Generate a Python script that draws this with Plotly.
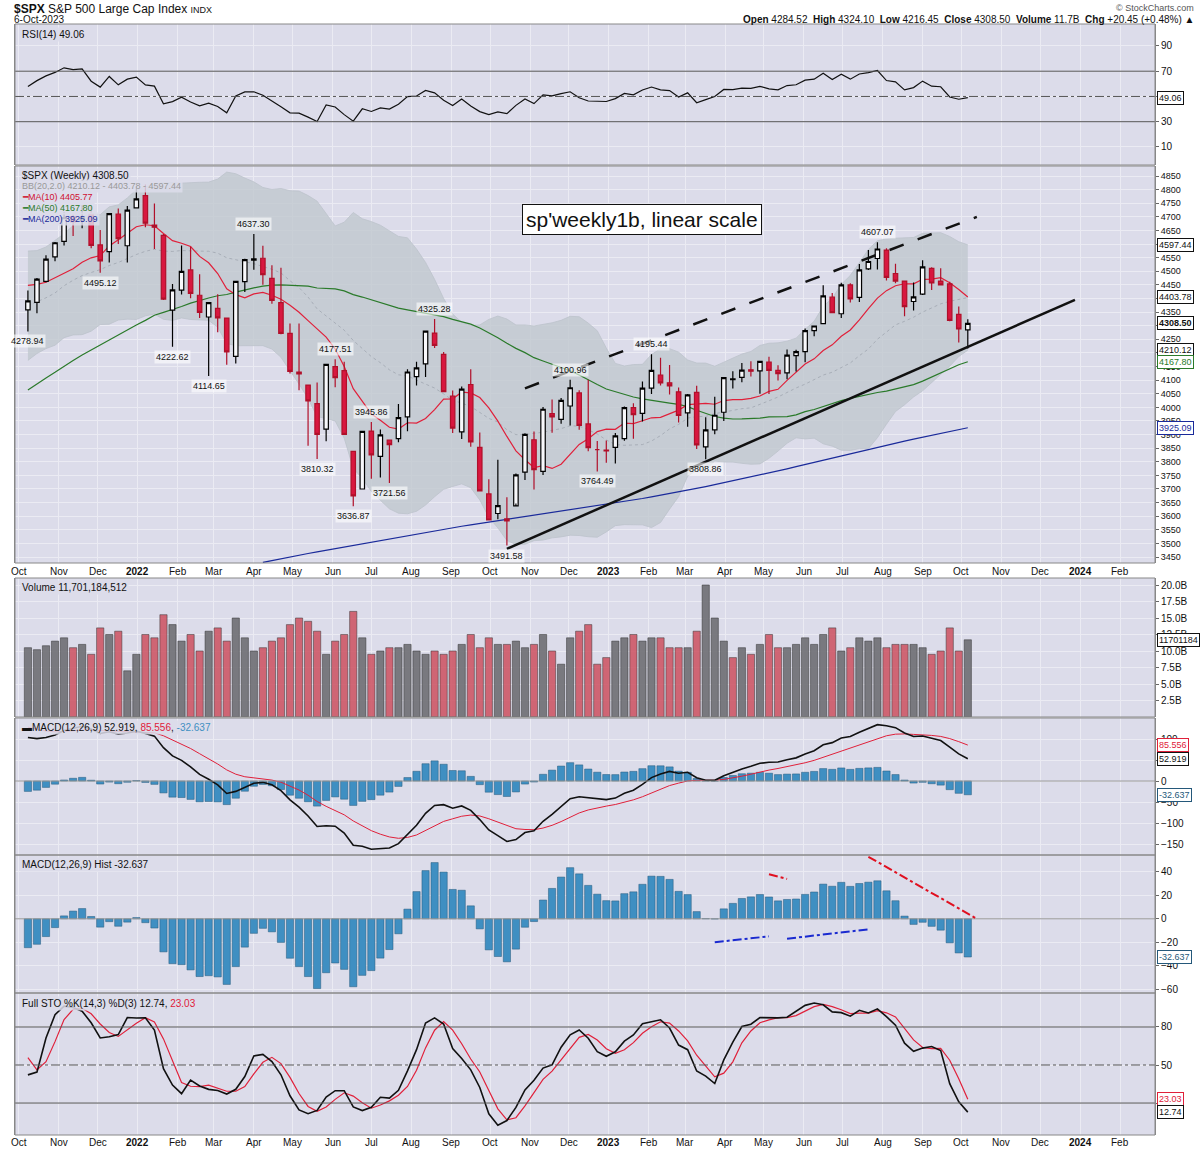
import numpy as np
import pandas as pd
import plotly.graph_objects as go

# ---------------- data ----------------
# warm-up weekly closes (Oct 2020 - Oct 1 2021) used only for indicators
hist_close = [3477,3484,3465,3270,3510,3585,3558,3638,3699,3663,3709,3703,3756,3825,3768,3841,3714,3886,3934,3907,
              3811,3841,3943,3913,3974,4020,4129,4185,4180,4181,4233,4174,4156,4204,4230,4247,4166,4281,4352,4370,
              4327,4412,4395,4437,4468,4442,4509,4535,4459,4433,4455,4357]

ohlc = [
(4358,4429,4279,4391),(4386,4475,4346,4471),(4463,4559,4460,4545),(4553,4608,4537,4605),(4610,4718,4595,4697),
(4701,4708,4630,4682),(4689,4743,4658,4698),(4712,4744,4585,4595),(4597,4652,4495,4538),(4572,4713,4532,4712),
(4710,4731,4600,4620),(4594,4740,4532,4725),(4733,4808,4733,4766),
(4778,4819,4662,4677),(4670,4749,4582,4662),(4632,4637,4395,4398),(4357,4453,4223,4432),(4431,4595,4415,4500),
(4505,4590,4401,4419),(4412,4489,4328,4349),(4332,4385,4115,4385),(4364,4416,4276,4329),(4328,4328,4157,4204),
(4187,4465,4161,4463),(4462,4546,4424,4543),(4541,4637,4506,4546),(4548,4594,4451,4488),(4474,4522,4381,4393),
(4385,4513,4269,4272),(4272,4308,4124,4132),(4130,4308,4063,4123),(4082,4082,3859,4024),(4014,4091,3810,3901),
(3920,4159,3875,4158),(4150,4177,4074,4109),(4135,4168,3900,3901),(3838,3838,3637,3675),(3700,3914,3700,3912),
(3913,3946,3738,3825),(3820,3919,3742,3899),(3880,3880,3722,3863),(3885,4012,3872,3962),(3965,4140,3912,4130),
(4113,4168,4080,4145),(4160,4280,4112,4280),(4273,4325,4218,4228),(4195,4203,4058,4058),(4041,4062,3906,3924),
(3910,4077,3884,4067),(4084,4140,3855,3873),(3853,3908,3693,3693),(3682,3736,3584,3586),(3610,3807,3589,3639),
(3590,3670,3492,3583),(3638,3757,3647,3752),(3762,3905,3733,3901),(3881,3911,3698,3771),(3765,4001,3751,3993),
(3977,4029,3907,3965),(3956,4034,3940,4026),(4005,4101,3933,4072),(4053,4063,3918,3934),(3939,4101,3839,3852),
(3845,3876,3764,3845),(3843,3878,3796,3840),
(3853,3906,3794,3895),(3885,4003,3877,3999),(3999,4015,3885,3973),(3978,4095,3948,4071),(4071,4195,4049,4136),
(4119,4182,4080,4090),(4090,4156,4047,4079),(4057,4073,3944,3970),(3980,4049,3929,4046),(4055,4079,3847,3862),
(3855,3964,3809,3917),(3917,4039,3901,3971),(3982,4110,3950,4109),(4102,4133,4069,4105),(4110,4163,4092,4137),
(4138,4169,4113,4133),(4134,4170,4050,4169),(4166,4186,4049,4136),(4136,4155,4099,4124),(4127,4213,4103,4192),
(4190,4212,4132,4205),(4205,4290,4166,4282),(4282,4298,4261,4299),(4308,4449,4305,4410),(4405,4420,4347,4348),
(4344,4458,4328,4450),(4450,4456,4385,4399),(4404,4527,4387,4505),(4509,4578,4505,4536),(4547,4607,4507,4582),
(4578,4585,4466,4478),(4492,4528,4456,4464),(4464,4464,4335,4370),(4389,4459,4356,4406),(4416,4541,4413,4516),
(4511,4515,4431,4457),(4464,4511,4449,4450),(4454,4462,4316,4320),(4342,4371,4238,4288),(4284.52,4324.10,4216.45,4308.50),
]
opens = [r[0] for r in ohlc]; highs = [r[1] for r in ohlc]; lows = [r[2] for r in ohlc]; closes = [r[3] for r in ohlc]

volume_b = [10.5,10.2,10.8,11.5,12.0,10.5,11.0,9.5,13.5,12.5,13.0,7.0,9.5,
            12.5,12.0,15.5,14.0,11.5,12.5,10.0,13.0,13.5,11.5,15.0,12.0,10.0,10.5,11.5,12.0,14.0,15.0,
            14.5,13.0,9.5,11.5,12.5,16.0,12.0,9.5,10.0,10.5,10.5,11.0,10.0,9.5,10.0,9.5,10.0,11.0,
            12.5,10.5,12.0,11.0,11.0,11.5,10.5,11.0,12.5,10.0,8.0,12.0,13.0,14.0,8.0,9.0,
            11.5,12.0,12.5,11.5,12.0,12.0,10.5,10.5,10.5,13.0,20.0,15.0,11.5,9.0,10.5,9.5,11.0,12.5,
            10.5,10.5,11.0,12.0,11.0,12.5,13.5,10.0,10.5,12.0,11.5,12.0,10.5,11.0,11.0,11.0,10.5,9.5,
            10.0,13.5,10.0,11.7]

ma200_vals = [3430,3437,3444,3451,3457,3463,3469,3475,3481,3487,3493,3499,3505,3511,3517,3523,3529,3535,3541,3547,
              3553,3558,3563,3568,3573,3578,3583,3588,3593,3598,3603,3608,3613,3618,3623,3628,3633,3638,3643,3648,
              3653,3659,3665,3671,3677,3683,3689,3695,3702,3709,3716,3723,3730,3737,3744,3751,3758,3766,3774,3782,
              3790,3798,3806,3814,3822,3830,3838,3846,3854,3862,3869,3876,3883,3890,3897,3904,3911,3918,3925.09]

month_ticks = pd.date_range("2021-10-01","2024-02-01",freq="MS")
month_text = [("<b>%d</b>" % d.year) if d.month == 1 else d.strftime("%b") for d in month_ticks]

peak_labels = [  # (week index, value, position)
    (0,4278.94,"below"),(8,4495.12,"below"),(16,4222.62,"below"),(20,4114.65,"below"),(25,4637.30,"above"),
    (32,3810.32,"below"),(34,4177.51,"above"),(36,3636.87,"below"),(38,3945.86,"above"),(40,3721.56,"below"),
    (45,4325.28,"above"),(53,3491.58,"below"),(60,4100.96,"above"),(63,3764.49,"below"),(69,4195.44,"above"),
    (75,3808.86,"below"),(94,4607.07,"above")]

upper_channel = [("2022-10-28",4070),("2023-10-13",4700)]
lower_channel = [("2022-10-14",3480),("2023-12-28",4395)]
blue_lines = [[("2023-03-24",-20),("2023-05-05",-15)],[("2023-05-19",-17),("2023-07-21",-9)]]
red_lines = [[("2023-05-05",38),("2023-05-19",34)],[("2023-07-21",53),("2023-10-13",0)]]

# ---------------- indicators ----------------
dates = pd.date_range(end="2023-10-06", periods=len(closes), freq="W-FRI")
full_c = pd.concat([pd.Series(hist_close), pd.Series(closes)], ignore_index=True)
full_h = pd.concat([pd.Series(hist_close), pd.Series(highs)], ignore_index=True)
full_l = pd.concat([pd.Series(hist_close), pd.Series(lows)], ignore_index=True)
n0 = len(hist_close)

d = full_c.diff()
up = d.clip(lower=0).ewm(alpha=1/14, adjust=False).mean()
dn = (-d.clip(upper=0)).ewm(alpha=1/14, adjust=False).mean()
rsi = (100 - 100/(1+up/dn)).iloc[n0:].values
ma10 = full_c.rolling(10).mean().iloc[n0:].values
ma50 = full_c.rolling(50, min_periods=40).mean().iloc[n0:].values
mid = full_c.rolling(20).mean(); sd = full_c.rolling(20).std(ddof=0)
bbm = mid.iloc[n0:].values; bbu = (mid+2*sd).iloc[n0:].values; bbl = (mid-2*sd).iloc[n0:].values
macd = full_c.ewm(span=12, adjust=False).mean() - full_c.ewm(span=26, adjust=False).mean()
sig = macd.ewm(span=9, adjust=False).mean()
mh = (macd-sig).iloc[n0:].values; macd_v = macd.iloc[n0:].values; sig_v = sig.iloc[n0:].values
hh = full_h.rolling(14).max(); ll = full_l.rolling(14).min()
fk = 100*(full_c-ll)/(hh-ll); sk = fk.rolling(3).mean(); sd3 = sk.rolling(3).mean()
sk_v = sk.iloc[n0:].values; sd_v = sd3.iloc[n0:].values

# ---------------- figure ----------------
H = 1152; T = 24; B = 17; PH = H - T - B
def dom(a, b): return [1-(b-T)/PH, 1-(a-T)/PH]
panels = {"y": (24,165), "y2": (166,563), "y3": (578,717), "y4": (718,855), "y5": (855,993), "y6": (993,1135)}

fig = go.Figure()
BG = "#dcdcea"; GRID = "#ebebf3"; AXC = "#888"
font = dict(family="Arial, Liberation Sans", size=10, color="#111")

fig.add_trace(go.Scatter(x=dates, y=rsi, mode="lines", line=dict(color="#111", width=1.2), yaxis="y", xaxis="x", hoverinfo="skip"))

fig.add_trace(go.Scatter(x=dates, y=bbu, mode="lines", line=dict(color="#bcc3cc", width=0.8), yaxis="y2", xaxis="x"))
fig.add_trace(go.Scatter(x=dates, y=bbl, mode="lines", line=dict(color="#bcc3cc", width=0.8), fill="tonexty",
                         fillcolor="rgba(192,200,206,0.8)", yaxis="y2", xaxis="x"))
fig.add_trace(go.Scatter(x=dates, y=bbm, mode="lines", line=dict(color="#a0a6b0", width=0.8, dash="dot"), yaxis="y2", xaxis="x"))
ma200_dates = dates[-len(ma200_vals):]
fig.add_trace(go.Scatter(x=ma200_dates, y=ma200_vals, mode="lines", line=dict(color="#1a2a9a", width=1.2), yaxis="y2", xaxis="x"))
fig.add_trace(go.Scatter(x=dates, y=ma50, mode="lines", line=dict(color="#2a7a2a", width=1.2), yaxis="y2", xaxis="x"))
fig.add_trace(go.Scatter(x=dates, y=ma10, mode="lines", line=dict(color="#e0203a", width=1.2), yaxis="y2", xaxis="x"))
fig.add_trace(go.Candlestick(x=dates, open=opens, high=highs, low=lows, close=closes, yaxis="y7", xaxis="x",
    increasing=dict(line=dict(color="#000", width=1.2), fillcolor="#f8f8fb"),
    decreasing=dict(line=dict(color="#b0102a", width=1.2), fillcolor="#d8173f"), whiskerwidth=0))

prev = [hist_close[-1]] + closes[:-1]
vcol = ["rgba(205,80,95,0.85)" if cc < pp else "rgba(110,110,115,0.9)" for cc, pp in zip(closes, prev)]
fig.add_trace(go.Bar(x=dates, y=volume_b, marker=dict(color=vcol, line=dict(color="#333", width=0.5)), yaxis="y3", xaxis="x"))

fig.add_trace(go.Bar(x=dates, y=mh, marker=dict(color="#3f8fc2", line=dict(color="#24587a", width=0.5)), yaxis="y4", xaxis="x"))
fig.add_trace(go.Scatter(x=dates, y=sig_v, mode="lines", line=dict(color="#e0203a", width=1), yaxis="y4", xaxis="x"))
fig.add_trace(go.Scatter(x=dates, y=macd_v, mode="lines", line=dict(color="#111", width=1.6), yaxis="y4", xaxis="x"))

fig.add_trace(go.Bar(x=dates, y=mh, marker=dict(color="#3f8fc2", line=dict(color="#24587a", width=0.5)), yaxis="y5", xaxis="x"))

fig.add_trace(go.Scatter(x=dates, y=sd_v, mode="lines", line=dict(color="#e0203a", width=1.2), yaxis="y6", xaxis="x"))
fig.add_trace(go.Scatter(x=dates, y=sk_v, mode="lines", line=dict(color="#111", width=1.6), yaxis="y6", xaxis="x"))

xr = ["2021-09-28", "2024-02-28"]
layout = dict(width=1200, height=H, margin=dict(l=15, r=45, t=T, b=B, autoexpand=False), paper_bgcolor="white", plot_bgcolor=BG,
              showlegend=False, bargap=0.2, font=font)
ranges = {"y": [-4.3,107.4], "y2": [3428,4887], "y3": [0,21.06], "y4": [-176,150], "y5": [-63.4,54.5], "y6": [-5.2,106.8]}
ticks = {"y": [10,30,50,70,90], "y2": list(range(3450,4851,50)), "y3": [2.5,5,7.5,10,12.5,15,17.5,20],
         "y4": [-150,-100,-50,0,50,100], "y5": [-60,-40,-20,0,20,40], "y6": [20,50,80]}
ttext = {"y3": ["2.5B","5.0B","7.5B","10.0B","12.5B","15.0B","17.5B","20.0B"]}
for k, (a, b) in panels.items():
    name = "yaxis" if k == "y" else "yaxis" + k[1:]
    ax = dict(domain=dom(a, b), range=ranges[k], side="right", anchor="x", tickvals=ticks[k],
              ticktext=ttext.get(k), showgrid=True, gridcolor=GRID, gridwidth=1, zeroline=False, automargin=False,
              showline=True, linecolor=AXC, mirror=True, ticks="outside", ticklen=3, tickcolor="#666",
              tickfont=dict(size=10 if k != "y2" else 9, color="#111"), fixedrange=True)
    layout[name] = ax
layout["yaxis7"] = dict(overlaying="y2", range=ranges["y2"], side="right", anchor="x", visible=False,
                        showgrid=False, automargin=False, fixedrange=True)
layout["xaxis"] = dict(range=xr, tickvals=month_ticks, ticktext=month_text, showgrid=True, gridcolor=GRID,
                       showticklabels=False, rangeslider=dict(visible=False), showline=False, anchor="y6", automargin=False)
fig.update_layout(**layout)

shapes = []
def hline(yref, y, dash="solid", color="#555"):
    shapes.append(dict(type="line", xref="paper", x0=0, x1=1, yref=yref, y0=y, y1=y, line=dict(color=color, width=1, dash=dash)))
hline("y", 70); hline("y", 30); hline("y", 50, "dashdot")
hline("y6", 80); hline("y6", 20); hline("y6", 50, "dashdot")
hline("y4", 0, "solid", "#999"); hline("y5", 0, "solid", "#999")
for (a, b) in panels.values():
    shapes.append(dict(type="rect", xref="paper", yref="paper", x0=0, x1=1, y0=dom(a,b)[0], y1=dom(a,b)[1],
                       line=dict(color="#888", width=1)))
shapes.append(dict(type="line", xref="x", yref="y2", x0=upper_channel[0][0], y0=upper_channel[0][1],
                   x1=upper_channel[1][0], y1=upper_channel[1][1], line=dict(color="#111", width=2.5, dash="longdash")))
shapes.append(dict(type="line", xref="x", yref="y2", x0=lower_channel[0][0], y0=lower_channel[0][1],
                   x1=lower_channel[1][0], y1=lower_channel[1][1], line=dict(color="#111", width=2.5)))
for seg in blue_lines:
    shapes.append(dict(type="line", xref="x", yref="y5", x0=seg[0][0], y0=seg[0][1], x1=seg[1][0], y1=seg[1][1],
                       line=dict(color="#1a2ad0", width=2, dash="dashdot")))
for seg in red_lines:
    shapes.append(dict(type="line", xref="x", yref="y5", x0=seg[0][0], y0=seg[0][1], x1=seg[1][0], y1=seg[1][1],
                       line=dict(color="#e01020", width=2, dash="dashdot")))
fig.update_layout(shapes=shapes)

ann = []
def txt(x, y, s, size=10, color="#111", xanchor="left", yanchor="top", xref="paper", yref="paper", **kw):
    ann.append(dict(x=x, y=y, xref=xref, yref=yref, text=s, showarrow=False, xanchor=xanchor, yanchor=yanchor,
                    font=dict(size=size, color=color, family="Arial, Liberation Sans"), **kw))
def py(p): return 1 - (p - T)/PH
def px(p): return (p - 15)/1140
txt(px(12), py(0), "<b>$SPX</b> S&P 500 Large Cap Index <span style='font-size:9px'>INDX</span>", size=12)
txt(px(12), py(12), "6-Oct-2023", size=10)
txt(px(1196), py(1), "© StockCharts.com", size=9, color="#555", xanchor="right")
txt(px(1196), py(12), "<b>Open</b> 4284.52  <b>High</b> 4324.10  <b>Low</b> 4216.45  <b>Close</b> 4308.50  <b>Volume</b> 11.7B  <b>Chg</b> +20.45 (+0.48%) ▲",
    size=10, xanchor="right")
LB = "rgba(220,220,234,0.85)"
txt(0.004, py(27), "RSI(14) 49.06", size=10, bgcolor=LB)
txt(0.004, py(168), "$SPX (Weekly) 4308.50", size=10, bgcolor=LB)
txt(0.004, py(179), "BB(20,2.0) 4210.12 - 4403.78 - 4597.44", size=9, color="#999", bgcolor=LB)
txt(0.004, py(190), "━MA(10) 4405.77", size=9, color="#d01030", bgcolor=LB)
txt(0.004, py(201), "━MA(50) 4167.80", size=9, color="#2a7a2a", bgcolor=LB)
txt(0.004, py(212), "━MA(200) 3925.09", size=9, color="#1a2a9a", bgcolor=LB)
txt(0.004, py(580), "Volume 11,701,184,512", size=10, bgcolor=LB)
txt(0.004, py(720), "▬MACD(12,26,9) 52.919, <span style='color:#e0203a'>85.556</span>, <span style='color:#3f8fc2'>-32.637</span>", size=10, bgcolor=LB)
txt(0.004, py(857), "MACD(12,26,9) Hist -32.637", size=10, bgcolor=LB)
txt(0.004, py(996), "Full STO %K(14,3) %D(3) 12.74, <span style='color:#e0203a'>23.03</span>", size=10, bgcolor=LB)
for i, v, pos in peak_labels:
    txt(dates[i], v, "%.2f" % v, size=9, xanchor="center", yanchor="top" if pos == "below" else "bottom",
        xref="x", yref="y2", yshift=-3 if pos == "below" else 3, bgcolor="rgba(255,255,255,0.6)")
txt("2022-10-28", 4690, "sp'weekly1b, linear scale", size=21, xref="x", yref="y2", yanchor="middle",
    bgcolor="white", bordercolor="#111", borderwidth=1, borderpad=3, xshift=-3)
for yy in (571, 1142):
    for dt, s in zip(month_ticks, month_text):
        txt(dt, py(yy), s, size=10, xanchor="center", yanchor="middle", xref="x")
tags = [("y", 49.06, "#111", "%.2f"), ("y2", 4597.44, "#111", "%.2f"), ("y2", 4403.78, "#111", "%.2f"),
        ("y2", 4308.50, "#111", "<b>%.2f</b>"), ("y2", 4210.12, "#111", "%.2f"), ("y2", 4167.80, "#2a7a2a", "%.2f"),
        ("y2", 3925.09, "#1a2a9a", "%.2f"), ("y3", 11.7, "#111", "11701184"), ("y4", 85.556, "#e0203a", "%.3f"),
        ("y4", 52.919, "#111", "%.3f"), ("y4", -32.637, "#24587a", "%.3f"), ("y5", -32.637, "#24587a", "%.3f"),
        ("y6", 23.03, "#e0203a", "%.2f"), ("y6", 12.74, "#111", "%.2f")]
for yr, v, col, fmt in tags:
    s = fmt % v if "%" in fmt else fmt
    txt(1.0, v, s, size=9, color=col, xanchor="left", yanchor="middle",
        yref=yr, bgcolor="white", bordercolor=col, borderwidth=1, borderpad=1, xshift=2)
fig.update_layout(annotations=ann)

fig.write_html("out.html", config={"displayModeBar": False},
               post_script="document.body.style.margin='0';document.body.style.overflow='hidden';window.dispatchEvent(new Event('resize'));")
